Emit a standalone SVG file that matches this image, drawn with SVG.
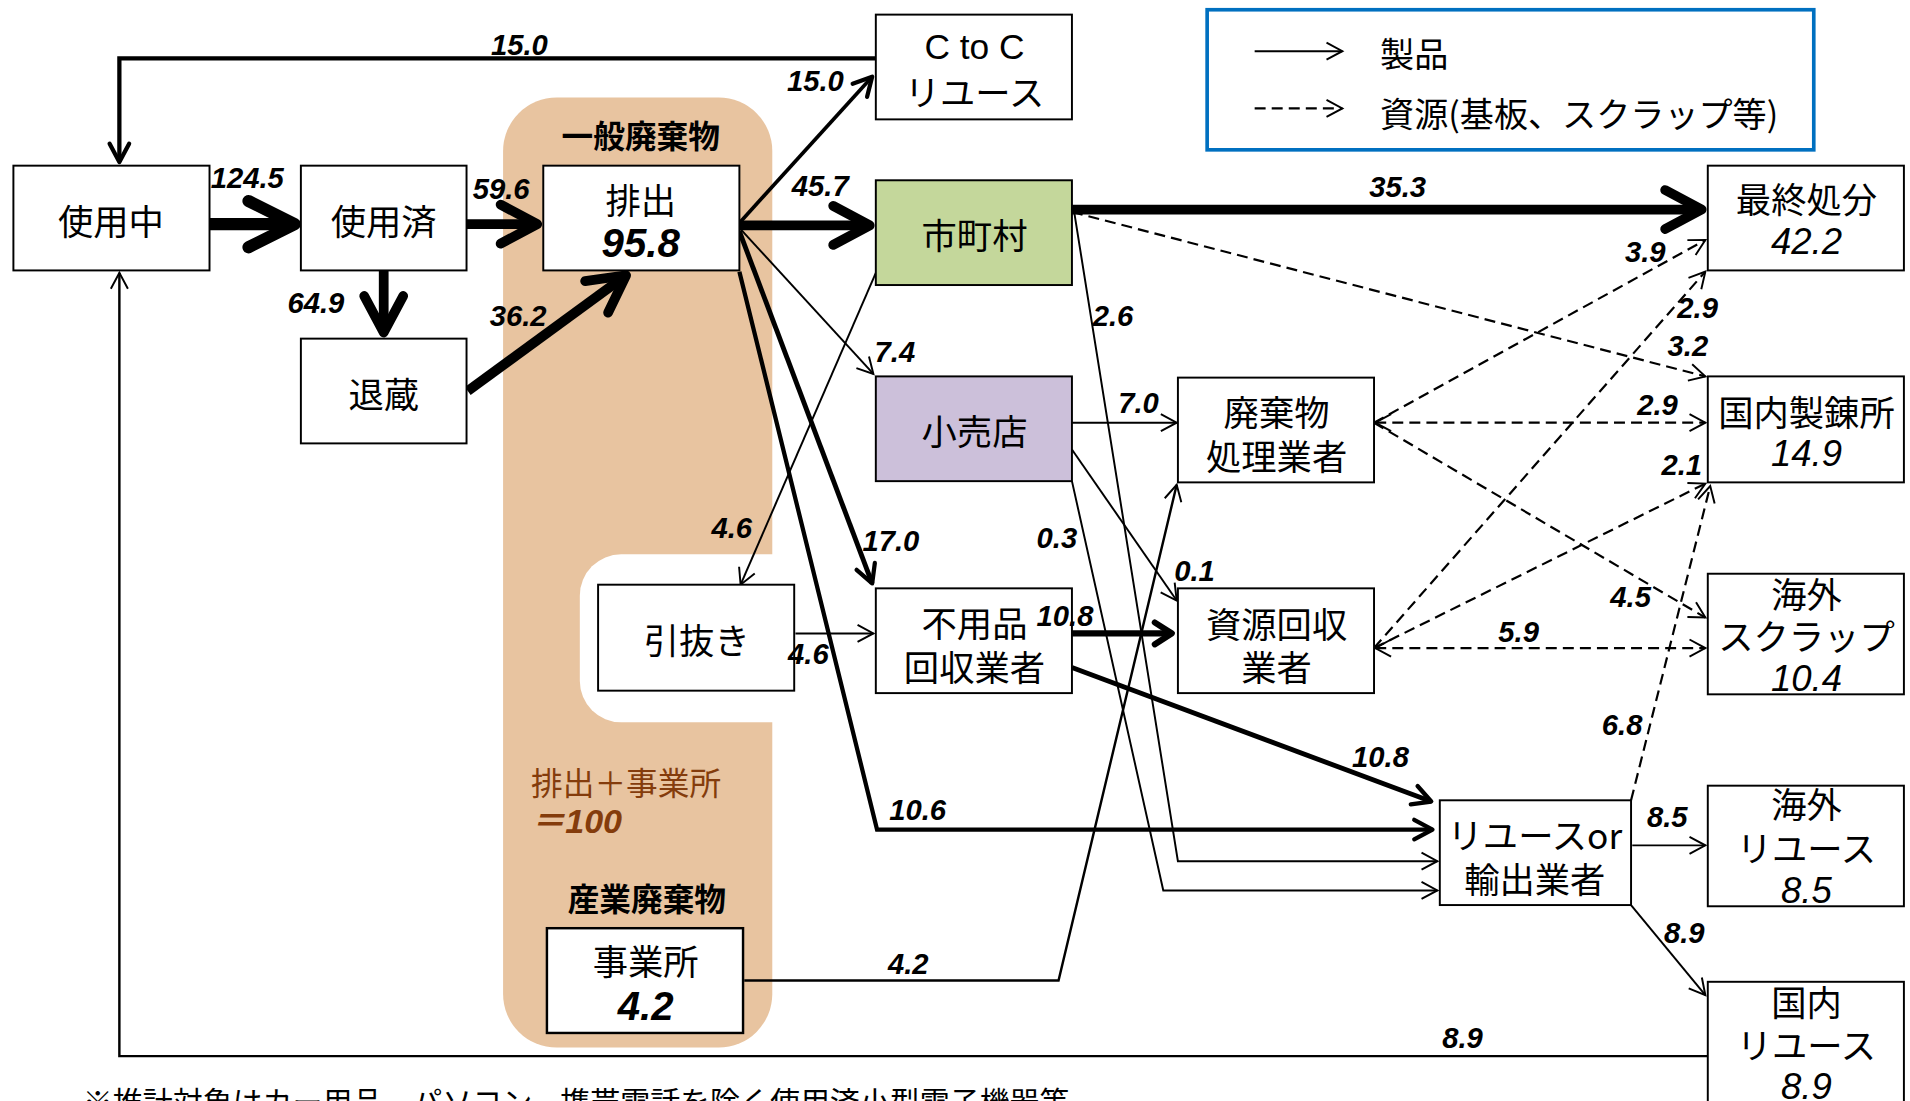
<svg xmlns="http://www.w3.org/2000/svg" width="1910" height="1101" viewBox="0 0 1910 1101">
<defs>
<style>
.box{fill:#fff;stroke:#000;stroke-width:1.6}
.jp{font-family:"Noto Sans CJK JP","Noto Sans",sans-serif;font-size:29px;fill:#000;text-anchor:middle;dominant-baseline:central}
.lat{font-family:"Liberation Sans",Arial,sans-serif;font-size:29px;fill:#000;text-anchor:middle;dominant-baseline:central}
.num{font-family:"Liberation Sans",Arial,sans-serif;font-style:italic;font-size:30px;fill:#000;text-anchor:middle;dominant-baseline:central}
.bnum{font-family:"Liberation Sans",Arial,sans-serif;font-style:italic;font-weight:bold;font-size:33px;fill:#000;text-anchor:middle;dominant-baseline:central}
.lbl{font-family:"Liberation Sans",Arial,sans-serif;font-style:italic;font-weight:bold;font-size:24px;fill:#000}
.ln{fill:none;stroke:#000;stroke-linejoin:miter}
.thin{stroke-width:1.6}
.dash{stroke-width:1.8;stroke-dasharray:9 5}
.t10{stroke-width:10}
.t8{stroke-width:8}
.brown{fill:#843C0C}
</style>
<marker id="aT10" markerUnits="userSpaceOnUse" orient="auto" overflow="visible" markerWidth="60" markerHeight="60" refX="0" refY="0">
<path d="M-38,-19 L0,0 L-38,19" fill="none" stroke="#000" stroke-width="10" stroke-linecap="round" stroke-linejoin="round"/>
</marker>
<marker id="aT8" markerUnits="userSpaceOnUse" orient="auto" overflow="visible" markerWidth="60" markerHeight="60" refX="0" refY="0">
<path d="M-30,-16 L0,0 L-30,16" fill="none" stroke="#000" stroke-width="8" stroke-linecap="round" stroke-linejoin="round"/>
</marker>
<marker id="aM" markerUnits="userSpaceOnUse" orient="auto" overflow="visible" markerWidth="40" markerHeight="40" refX="0" refY="0">
<path d="M-15,-8 L0,0 L-15,8" fill="none" stroke="#000" stroke-width="3.5" stroke-linecap="round" stroke-linejoin="round"/>
</marker>
<marker id="aM5" markerUnits="userSpaceOnUse" orient="auto" overflow="visible" markerWidth="40" markerHeight="40" refX="0" refY="0">
<path d="M-14,-9 L0,0 L-14,9" fill="none" stroke="#000" stroke-width="5" stroke-linecap="round" stroke-linejoin="round"/>
</marker>
<marker id="aS" markerUnits="userSpaceOnUse" orient="auto" overflow="visible" markerWidth="40" markerHeight="40" refX="0" refY="0">
<path d="M-13,-7 L0,0 L-13,7" fill="none" stroke="#000" stroke-width="1.6"/>
</marker>
<marker id="aSr" markerUnits="userSpaceOnUse" orient="auto-start-reverse" overflow="visible" markerWidth="40" markerHeight="40" refX="0" refY="0">
<path d="M-13,-7 L0,0 L-13,7" fill="none" stroke="#000" stroke-width="1.6"/>
</marker>
</defs>
<rect x="0" y="0" width="1910" height="1101" fill="#fff"/>
<g transform="scale(1.21811)">
<g id="regions">
<rect x="413" y="80" width="221" height="780" rx="44" fill="#E8C4A0"/>
<rect x="476" y="455" width="200" height="138" rx="34" fill="#fff"/>
<text x="526" y="110" class="jp" style="font-size:26px;font-weight:bold">一般廃棄物</text>
<text x="436" y="641" class="jp brown" style="font-size:26px;text-anchor:start">排出＋事業所</text>
<text x="436" y="684" class="lbl brown" style="font-size:28px;font-family:'Liberation Sans','Noto Sans CJK JP',sans-serif">＝100</text>
<text x="531" y="736" class="jp" style="font-size:26px;font-weight:bold">産業廃棄物</text>
</g>
<g id="legend">
<rect x="991" y="8" width="498" height="115" fill="#fff" stroke="#0070C0" stroke-width="3"/>
<path class="ln thin" d="M1030,42 L1102,42" marker-end="url(#aS)"/>
<path class="ln dash" d="M1030,89 L1102,89" marker-end="url(#aS)"/>
<text x="1133" y="43" class="jp" style="font-size:28px;text-anchor:start">製品</text>
<text x="1133" y="92" class="jp" style="font-size:28px;text-anchor:start">資源(基板、スクラップ等)</text>
</g>
<g id="connectors">
<path class="ln" style="stroke-width:3.5" d="M719,48 L98,48 L98,133" marker-end="url(#aM)"/>
<path class="ln t10" d="M172,184 L242,184" marker-end="url(#aT10)"/>
<path class="ln t8" d="M383,184 L441,184" marker-end="url(#aT8)"/>
<path class="ln t8" d="M315,222 L315,273" marker-end="url(#aT8)"/>
<path class="ln t8" d="M384,321 L514,226" marker-end="url(#aT8)"/>
<path class="ln" style="stroke-width:3" d="M607,183 L716,63" marker-end="url(#aM)"/>
<path class="ln t8" d="M607,185 L714,185" marker-end="url(#aT8)"/>
<path class="ln thin" d="M607,187 L717,307" marker-end="url(#aS)"/>
<path class="ln" style="stroke-width:4" d="M607,190 L716,479" marker-end="url(#aM)"/>
<path class="ln" style="stroke-width:3.5" d="M607,223 L720,681 L1176,681" marker-end="url(#aM)"/>
<path class="ln thin" d="M719,224 L608,480" marker-end="url(#aS)"/>
<path class="ln thin" d="M653,520 L717,520" marker-end="url(#aS)"/>
<path class="ln t8" d="M880,172 L1397,172" marker-end="url(#aT8)"/>
<path class="ln dash" d="M880,174 L1400,309" marker-end="url(#aS)"/>
<path class="ln thin" d="M882,175 L967,707 L1180,707" marker-end="url(#aS)"/>
<path class="ln thin" d="M880,347 L966,347" marker-end="url(#aS)"/>
<path class="ln thin" d="M880,369 L966,493" marker-end="url(#aS)"/>
<path class="ln thin" d="M880,395 L955,731 L1180,731" marker-end="url(#aS)"/>
<path class="ln" style="stroke-width:5" d="M880,520 L962,520" marker-end="url(#aM5)"/>
<path class="ln" style="stroke-width:4" d="M880,548 L1175,658" marker-end="url(#aM)"/>
<path class="ln" style="stroke-width:2" d="M611,805 L869,805 L966,398" marker-end="url(#aS)"/>
<path class="ln dash" d="M1128,347 L1400,197" marker-end="url(#aS)"/>
<path class="ln dash" d="M1129,347 L1400,347" marker-start="url(#aSr)" marker-end="url(#aS)"/>
<path class="ln dash" d="M1128,347 L1400,507" marker-end="url(#aS)"/>
<path class="ln dash" d="M1128,532 L1400,223" marker-end="url(#aS)"/>
<path class="ln dash" d="M1128,532 L1400,397" marker-end="url(#aS)"/>
<path class="ln dash" d="M1129,532 L1400,532" marker-start="url(#aSr)" marker-end="url(#aS)"/>
<path class="ln dash" d="M1339,657 L1404,399" marker-end="url(#aS)"/>
<path class="ln thin" d="M1340,694 L1400,694" marker-end="url(#aS)"/>
<path class="ln thin" d="M1339,743 L1400,817" marker-end="url(#aS)"/>
<path class="ln" style="stroke-width:2" d="M1402,867 L98,867 L98,224" marker-end="url(#aS)"/>
</g>
<g id="n-shiyochu"><rect class="box" x="11" y="136" width="161" height="86"/><text class="jp" x="91" y="180">使用中</text></g>
<g id="n-shiyozumi"><rect class="box" x="247" y="136" width="136" height="86"/><text class="jp" x="315" y="180">使用済</text></g>
<g id="n-taizo"><rect class="box" x="247" y="278" width="136" height="86"/><text class="jp" x="315" y="322">退蔵</text></g>
<g id="n-haishutsu"><rect class="box" x="446" y="136" width="161" height="86"/><text class="jp" x="526" y="163">排出</text><text class="bnum" x="526" y="200">95.8</text></g>
<g id="n-ctoc"><rect class="box" x="719" y="12" width="161" height="86"/><text class="lat" x="800" y="38">C to C</text><text class="jp" x="800" y="74">リユース</text></g>
<g id="n-shichoson"><rect class="box" x="719" y="148" width="161" height="86" style="fill:#C4D79B"/><text class="jp" x="800" y="192">市町村</text></g>
<g id="n-kouriten"><rect class="box" x="719" y="309" width="161" height="86" style="fill:#CCC0DA"/><text class="jp" x="800" y="353">小売店</text></g>
<g id="n-hikinuki"><rect class="box" x="491" y="480" width="161" height="87"/><text class="jp" x="572" y="524">引抜き</text></g>
<g id="n-fuyohin"><rect class="box" x="719" y="483" width="161" height="86"/><text class="jp" x="800" y="510">不用品</text><text class="jp" x="800" y="546">回収業者</text></g>
<g id="n-haikibutsu"><rect class="box" x="967" y="310" width="161" height="86"/><text class="jp" x="1048" y="337">廃棄物</text><text class="jp" x="1048" y="373">処理業者</text></g>
<g id="n-shigen"><rect class="box" x="967" y="483" width="161" height="86"/><text class="jp" x="1048" y="511">資源回収</text><text class="jp" x="1048" y="546">業者</text></g>
<g id="n-reuse-export"><rect class="box" x="1182" y="657" width="157" height="86"/><text class="jp" x="1260" y="684">リユースor</text><text class="jp" x="1260" y="720">輸出業者</text></g>
<g id="n-saishu"><rect class="box" x="1402" y="136" width="161" height="86"/><text class="jp" x="1483" y="162">最終処分</text><text class="num" x="1483" y="198">42.2</text></g>
<g id="n-seiren"><rect class="box" x="1402" y="309" width="161" height="87"/><text class="jp" x="1483" y="337">国内製錬所</text><text class="num" x="1483" y="372">14.9</text></g>
<g id="n-kaigai-scrap"><rect class="box" x="1402" y="471" width="161" height="99"/><text class="jp" x="1483" y="486">海外</text><text class="jp" x="1483" y="521">スクラップ</text><text class="num" x="1483" y="557">10.4</text></g>
<g id="n-kaigai-reuse"><rect class="box" x="1402" y="645" width="161" height="99"/><text class="jp" x="1483" y="659">海外</text><text class="jp" x="1483" y="695">リユース</text><text class="num" x="1483" y="731">8.5</text></g>
<g id="n-kokunai-reuse"><rect class="box" x="1402" y="806" width="161" height="110"/><text class="jp" x="1483" y="821">国内</text><text class="jp" x="1483" y="857">リユース</text><text class="num" x="1483" y="892">8.9</text></g>
<g id="n-jigyosho"><rect class="box" x="449" y="762" width="161" height="86" style="stroke-width:2"/><text class="jp" x="530" y="788">事業所</text><text class="bnum" x="530" y="826">4.2</text></g>
<g id="connector-labels">
<text class="lbl" x="403" y="45">15.0</text>
<text class="lbl" x="173" y="154">124.5</text>
<text class="lbl" x="388" y="163">59.6</text>
<text class="lbl" x="236" y="257">64.9</text>
<text class="lbl" x="402" y="268">36.2</text>
<text class="lbl" x="646" y="75">15.0</text>
<text class="lbl" x="650" y="161">45.7</text>
<text class="lbl" x="718" y="297">7.4</text>
<text class="lbl" x="708" y="452">17.0</text>
<text class="lbl" x="730" y="673">10.6</text>
<text class="lbl" x="584" y="442">4.6</text>
<text class="lbl" x="647" y="545">4.6</text>
<text class="lbl" x="1124" y="162">35.3</text>
<text class="lbl" x="1369" y="292">3.2</text>
<text class="lbl" x="897" y="268">2.6</text>
<text class="lbl" x="918" y="339">7.0</text>
<text class="lbl" x="964" y="477">0.1</text>
<text class="lbl" x="851" y="450">0.3</text>
<text class="lbl" x="851" y="514">10.8</text>
<text class="lbl" x="1110" y="630">10.8</text>
<text class="lbl" x="729" y="800">4.2</text>
<text class="lbl" x="1334" y="215">3.9</text>
<text class="lbl" x="1344" y="341">2.9</text>
<text class="lbl" x="1322" y="498">4.5</text>
<text class="lbl" x="1377" y="261">2.9</text>
<text class="lbl" x="1364" y="390">2.1</text>
<text class="lbl" x="1230" y="527">5.9</text>
<text class="lbl" x="1315" y="603">6.8</text>
<text class="lbl" x="1352" y="679">8.5</text>
<text class="lbl" x="1366" y="774">8.9</text>
<text class="lbl" x="1184" y="860">8.9</text>
</g>
<text x="68" y="914" class="jp" style="font-size:24.6px;text-anchor:start;dominant-baseline:auto">※推計対象はカー用品、パソコン、携帯電話を除く使用済小型電子機器等</text>
</g>
</svg>
